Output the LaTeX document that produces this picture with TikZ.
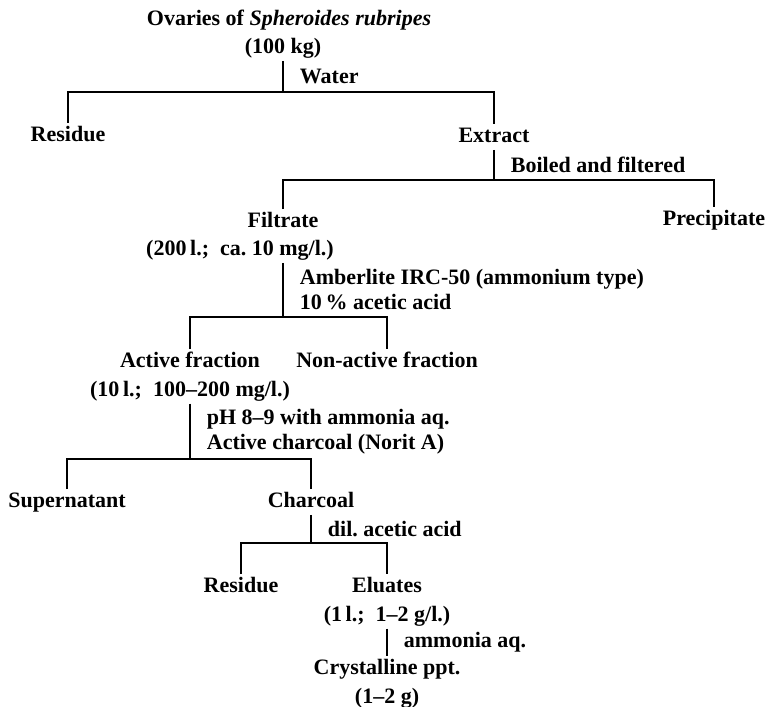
\documentclass[tikz,border=0pt]{standalone}
\usepackage{fontspec}
\setmainfont{Liberation Serif}
\usetikzlibrary{positioning}
\tikzset{
  sub/.style={font=\fontsize{11}{12.5}\selectfont\bfseries, inner sep=1pt, text height=8pt, text depth=2.5pt},
  cond/.style={right, xshift=7pt, align=left, inner sep=1pt, font=\fontsize{11}{12.5}\selectfont\bfseries},
  branch/.style={line width=0.9pt}
}

\begin{document}
\begin{tikzpicture}[x=0.5pt,y=-0.5pt]
\useasboundingbox (0,0) rectangle (772,707);
% nodes
 \node[sub] (ovar) at (289,20) {Ovaries of \textit{Spheroides rubripes}};
 \node[sub] (kg) at (283,48) {(100 kg)};
 \node[sub] (res1) at (68,136) {Residue};
 \node[sub] (extr) at (494,137) {Extract};
 \node[sub] (filt) at (283,222) {Filtrate};
 \node[sub] (filtc) at (240,250) {(200\,l.;\ \ ca.\ 10 mg/l.)};
 \node[sub] (prec) at (714,220) {Precipitate};
 \node[sub] (act) at (190,362) {Active fraction};
 \node[sub, below=1.5pt of act] (actc) {(10\,l.;\ \ 100--200 mg/l.)};
 \node[sub] (nonact) at (387,362) {Non-active fraction};
 \node[sub] (super) at (67,502) {Supernatant};
 \node[sub] (charc) at (311,502) {Charcoal};
 \node[sub] (res2) at (241,587) {Residue};
 \node[sub] (elu) at (387,587) {Eluates};
 \node[sub, below=1.5pt of elu] (eluc) {(1\,l.;\ \ 1--2 g/l.)};
 \node[sub] (cryst) at (387,669) {Crystalline ppt.};
 \node[sub, below=1.5pt of cryst] (crystc) {(1--2 g)};

% branch points
 \coordinate (b1) at (283,92);
 \coordinate (b2) at (494,180);
 \coordinate (b3) at (283,317);
 \coordinate (b4) at (190,459);
 \coordinate (b5) at (311,543);

% edges
 \draw[branch] (kg.south) -- node[cond] {Water} (b1);
 \draw[branch] (res1.north) |- (b1) -| (extr.north);
 \draw[branch] (extr.south) -- node[cond] {Boiled and filtered} (b2);
 \draw[branch] (filt.north) |- (b2) -| (prec.north);
 \draw[branch] (filtc.south -| filt) -- node[cond] {Amberlite IRC-50 (ammonium type)\\10\,\% acetic acid} (b3);
 \draw[branch] (act.north) |- (b3) -| (nonact.north);
 \draw[branch] (actc.south) -- node[cond] {pH 8--9 with ammonia aq.\\Active charcoal (Norit A)} (b4);
 \draw[branch] (super.north) |- (b4) -| (charc.north);
 \draw[branch] (charc.south) -- node[cond] {dil.\ acetic acid} (b5);
 \draw[branch] (res2.north) |- (b5) -| (elu.north);
 \draw[branch] (eluc.south) -- node[cond] {ammonia aq.} (cryst.north);
\end{tikzpicture}
\end{document}
